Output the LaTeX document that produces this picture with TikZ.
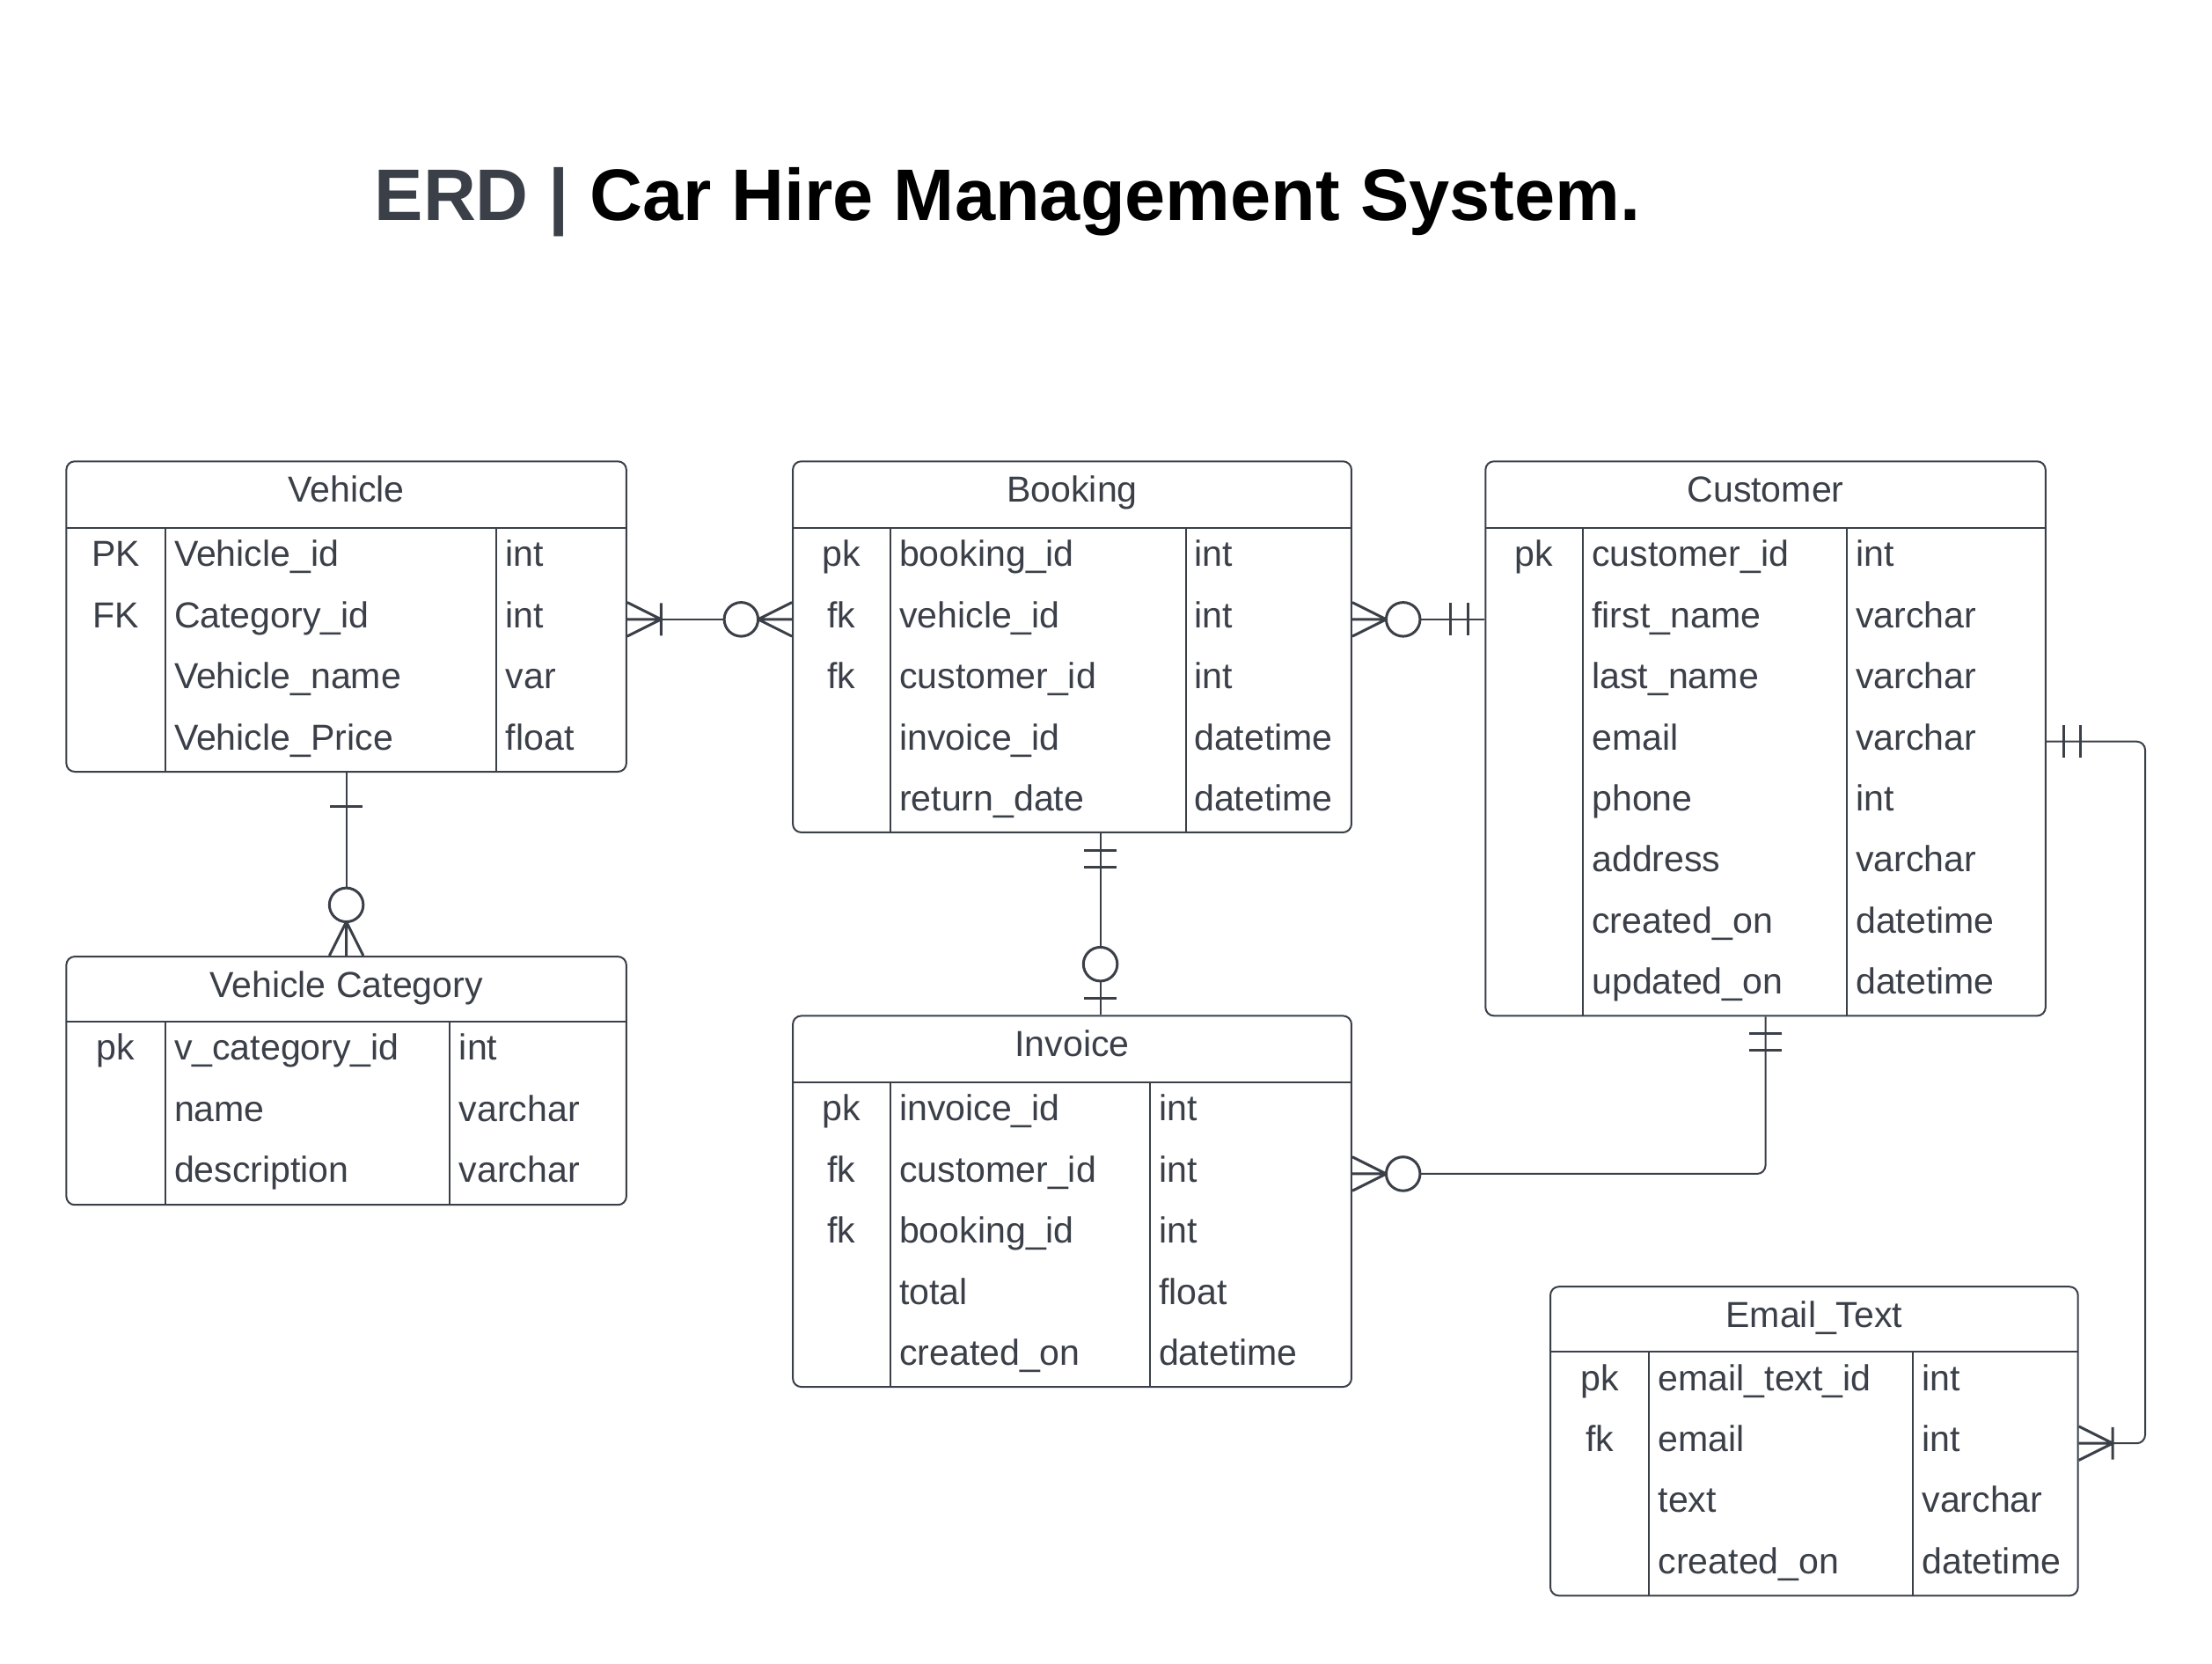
\documentclass[tikz,border=0pt]{standalone}
\usepackage{fontspec}
\setmainfont{Liberation Sans}
\usetikzlibrary{positioning,fit}
\definecolor{ink}{HTML}{3A3F48}
\tikzset{
	entity/.style={draw=ink,line width=0.5pt,rounded corners=2.4pt,inner sep=0pt},
	sep/.style={draw=ink,line width=0.5pt},
	head/.style={anchor=base,inner sep=0pt,text=ink,font=\fontsize{10.25}{12}\selectfont},
	key/.style={head},
	field/.style={anchor=base west,inner sep=0pt,text=ink,font=\fontsize{10.25}{12}\selectfont},
	rel/.style={draw=ink,line width=0.5pt,rounded corners=2.4pt},
	ends/.style={draw=ink,line width=0.75pt},
	one/.pic={\draw (24,-11.5) -- (24,11.5);},
	onlyone/.pic={\draw (12,-11.5) -- (12,11.5) (24,-11.5) -- (24,11.5);},
	zeroone/.pic={\draw (12,-11.5) -- (12,11.5); \draw[fill=white] (36,0) circle[radius=4.8pt];},
	onemany/.pic={\draw (0,-12) -- (24,0) -- (0,12) (0,0) -- (24,0) (24,-11.5) -- (24,11.5);},
	zeromany/.pic={\draw (0,-12) -- (24,0) -- (0,12) (0,0) -- (24,0); \draw[fill=white] (36,0) circle[radius=4.8pt];}
}

\begin{document}
\begin{tikzpicture}[x=0.4pt,y=-0.4pt]
	\useasboundingbox[fill=white] (0,0) rectangle (1568,1179);
	\node[anchor=base west,inner sep=0pt,font=\fontsize{20.7}{24}\selectfont\bfseries] (title) at (265,156) {\textcolor{ink}{ERD |} Car Hire Management System.};

	\node[entity,fit={(47,327) (444,547)}] (vehicle) {};
	\draw[sep] (47,374) -- (444,374) (117,374) -- (117,547) (352,374) -- (352,547);
	\node[head] (vehicle-h) at (245.5,356) {Vehicle};
	\node[key] (vehicle-k1) at (82,401.5) {PK};
	\node[field] (vehicle-n1) at (123,401.5) {Vehicle\_id};
	\node[field] (vehicle-t1) at (358,401.5) {int};
	\node[key] (vehicle-k2) at (82,444.8) {FK};
	\node[field] (vehicle-n2) at (123,444.8) {Category\_id};
	\node[field] (vehicle-t2) at (358,444.8) {int};
	\node[field] (vehicle-n3) at (123,488.1) {Vehicle\_name};
	\node[field] (vehicle-t3) at (358,488.1) {var};
	\node[field] (vehicle-n4) at (123,531.4) {Vehicle\_Price};
	\node[field] (vehicle-t4) at (358,531.4) {float};

	\node[entity,fit={(47,678) (444,854)}] (category) {};
	\draw[sep] (47,724) -- (444,724) (117,724) -- (117,854) (319,724) -- (319,854);
	\node[head] (category-h) at (245.5,707) {Vehicle Category};
	\node[key] (category-k1) at (82,751.5) {pk};
	\node[field] (category-n1) at (123,751.5) {v\_category\_id};
	\node[field] (category-t1) at (325,751.5) {int};
	\node[field] (category-n2) at (123,794.8) {name};
	\node[field] (category-t2) at (325,794.8) {varchar};
	\node[field] (category-n3) at (123,838.1) {description};
	\node[field] (category-t3) at (325,838.1) {varchar};

	\node[entity,fit={(562,327) (958,590)}] (booking) {};
	\draw[sep] (562,374) -- (958,374) (631,374) -- (631,590) (841,374) -- (841,590);
	\node[head] (booking-h) at (760,356) {Booking};
	\node[key] (booking-k1) at (596.5,401.5) {pk};
	\node[field] (booking-n1) at (637,401.5) {booking\_id};
	\node[field] (booking-t1) at (846,401.5) {int};
	\node[key] (booking-k2) at (596.5,444.8) {fk};
	\node[field] (booking-n2) at (637,444.8) {vehicle\_id};
	\node[field] (booking-t2) at (846,444.8) {int};
	\node[key] (booking-k3) at (596.5,488.1) {fk};
	\node[field] (booking-n3) at (637,488.1) {customer\_id};
	\node[field] (booking-t3) at (846,488.1) {int};
	\node[field] (booking-n4) at (637,531.4) {invoice\_id};
	\node[field] (booking-t4) at (846,531.4) {datetime};
	\node[field] (booking-n5) at (637,574.7) {return\_date};
	\node[field] (booking-t5) at (846,574.7) {datetime};

	\node[entity,fit={(562,720) (958,983)}] (invoice) {};
	\draw[sep] (562,767) -- (958,767) (631,767) -- (631,983) (815,767) -- (815,983);
	\node[head] (invoice-h) at (760,749) {Invoice};
	\node[key] (invoice-k1) at (596.5,794.5) {pk};
	\node[field] (invoice-n1) at (637,794.5) {invoice\_id};
	\node[field] (invoice-t1) at (821,794.5) {int};
	\node[key] (invoice-k2) at (596.5,837.8) {fk};
	\node[field] (invoice-n2) at (637,837.8) {customer\_id};
	\node[field] (invoice-t2) at (821,837.8) {int};
	\node[key] (invoice-k3) at (596.5,881.1) {fk};
	\node[field] (invoice-n3) at (637,881.1) {booking\_id};
	\node[field] (invoice-t3) at (821,881.1) {int};
	\node[field] (invoice-n4) at (637,924.4) {total};
	\node[field] (invoice-t4) at (821,924.4) {float};
	\node[field] (invoice-n5) at (637,967.7) {created\_on};
	\node[field] (invoice-t5) at (821,967.7) {datetime};

	\node[entity,fit={(1053,327) (1450,720)}] (customer) {};
	\draw[sep] (1053,374) -- (1450,374) (1122,374) -- (1122,720) (1309,374) -- (1309,720);
	\node[head] (customer-h) at (1251.5,356) {Customer};
	\node[key] (customer-k1) at (1087.5,401.5) {pk};
	\node[field] (customer-n1) at (1128,401.5) {customer\_id};
	\node[field] (customer-t1) at (1315,401.5) {int};
	\node[field] (customer-n2) at (1128,444.8) {first\_name};
	\node[field] (customer-t2) at (1315,444.8) {varchar};
	\node[field] (customer-n3) at (1128,488.1) {last\_name};
	\node[field] (customer-t3) at (1315,488.1) {varchar};
	\node[field] (customer-n4) at (1128,531.4) {email};
	\node[field] (customer-t4) at (1315,531.4) {varchar};
	\node[field] (customer-n5) at (1128,574.7) {phone};
	\node[field] (customer-t5) at (1315,574.7) {int};
	\node[field] (customer-n6) at (1128,618) {address};
	\node[field] (customer-t6) at (1315,618) {varchar};
	\node[field] (customer-n7) at (1128,661.3) {created\_on};
	\node[field] (customer-t7) at (1315,661.3) {datetime};
	\node[field] (customer-n8) at (1128,704.6) {updated\_on};
	\node[field] (customer-t8) at (1315,704.6) {datetime};

	\node[entity,fit={(1099,912) (1473,1131)}] (email) {};
	\draw[sep] (1099,958) -- (1473,958) (1169,958) -- (1169,1131) (1356,958) -- (1356,1131);
	\node[head] (email-h) at (1286,941) {Email\_Text};
	\node[key] (email-k1) at (1134,985.5) {pk};
	\node[field] (email-n1) at (1175,985.5) {email\_text\_id};
	\node[field] (email-t1) at (1362,985.5) {int};
	\node[key] (email-k2) at (1134,1028.8) {fk};
	\node[field] (email-n2) at (1175,1028.8) {email};
	\node[field] (email-t2) at (1362,1028.8) {int};
	\node[field] (email-n3) at (1175,1072.1) {text};
	\node[field] (email-t3) at (1362,1072.1) {varchar};
	\node[field] (email-n4) at (1175,1115.4) {created\_on};
	\node[field] (email-t4) at (1362,1115.4) {datetime};

	\draw[rel] (vehicle.east |- 0,439) -- (booking.west |- 0,439);
	\pic[ends] at (vehicle.east |- 0,439) {onemany};
	\pic[ends,rotate=180] at (booking.west |- 0,439) {zeromany};

	\draw[rel] (booking.east |- 0,439) -- (customer.west |- 0,439);
	\pic[ends] at (booking.east |- 0,439) {zeromany};
	\pic[ends,rotate=180] at (customer.west |- 0,439) {onlyone};

	\draw[rel] (vehicle.south) -- (category.north);
	\pic[ends,rotate=-90] at (vehicle.south) {one};
	\pic[ends,rotate=90] at (category.north) {zeromany};

	\draw[rel] (780,0 |- booking.south) -- (780,0 |- invoice.north);
	\pic[ends,rotate=-90] at (780,0 |- booking.south) {onlyone};
	\pic[ends,rotate=90] at (780,0 |- invoice.north) {zeroone};

	\draw[rel] (invoice.east |- 0,832) -| (customer.south);
	\pic[ends] at (invoice.east |- 0,832) {zeromany};
	\pic[ends,rotate=-90] at (customer.south) {onlyone};

	\draw[rel] (customer.east |- 0,525.6) -- ++(70,0) |- (email.east |- 0,1023);
	\pic[ends] at (customer.east |- 0,525.6) {onlyone};
	\pic[ends] at (email.east |- 0,1023) {onemany};
\end{tikzpicture}
\end{document}
